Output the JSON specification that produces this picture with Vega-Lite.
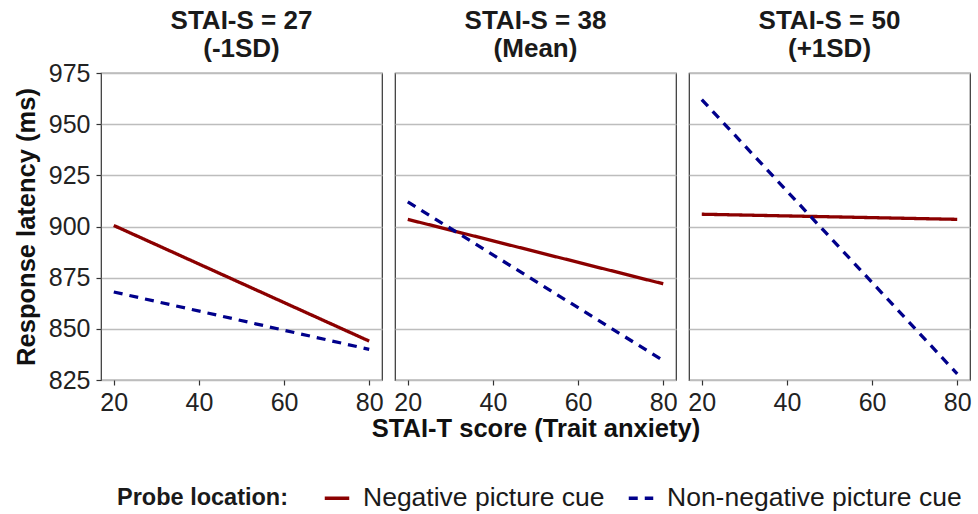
{
  "$schema": "https://vega.github.io/schema/vega-lite/v6.json",
  "padding": {"left": 13, "top": 6, "right": 0, "bottom": 0},
  "background": "white",
  "bounds": "flush",
  "datasets": {
    "lines": [
      {"panel": 1, "probe": "Negative picture cue", "trait": 20, "latency": 900.5},
      {"panel": 1, "probe": "Negative picture cue", "trait": 80, "latency": 844},
      {"panel": 1, "probe": "Non-negative picture cue", "trait": 20, "latency": 868},
      {"panel": 1, "probe": "Non-negative picture cue", "trait": 80, "latency": 840},
      {"panel": 2, "probe": "Negative picture cue", "trait": 20, "latency": 903.5},
      {"panel": 2, "probe": "Negative picture cue", "trait": 80, "latency": 872},
      {"panel": 2, "probe": "Non-negative picture cue", "trait": 20, "latency": 912},
      {"panel": 2, "probe": "Non-negative picture cue", "trait": 80, "latency": 834.5},
      {"panel": 3, "probe": "Negative picture cue", "trait": 20, "latency": 906},
      {"panel": 3, "probe": "Negative picture cue", "trait": 80, "latency": 903.5},
      {"panel": 3, "probe": "Non-negative picture cue", "trait": 20, "latency": 962},
      {"panel": 3, "probe": "Non-negative picture cue", "trait": 80, "latency": 828}
    ]
  },
  "config": {
    "font": "Liberation Sans",
    "view": {"stroke": "#333333", "strokeWidth": 1.2},
    "axis": {
      "domain": false,
      "labelFont": "Liberation Sans",
      "labelFontSize": 25,
      "labelColor": "#222222",
      "tickColor": "#333333",
      "tickSize": 5,
      "tickWidth": 1.2,
      "labelPadding": 5,
      "titleFont": "Liberation Sans",
      "titleFontSize": 25.5,
      "titleFontWeight": "bold",
      "titleColor": "#111111",
      "gridColor": "#bdbdbd",
      "gridWidth": 1.5
    },
    "title": {
      "font": "Liberation Sans",
      "fontSize": 26,
      "fontWeight": "bold",
      "color": "#1a1a1a",
      "anchor": "middle",
      "lineHeight": 28
    },
    "legend": {
      "labelFont": "Liberation Sans",
      "labelFontSize": 26.5,
      "labelColor": "#1a1a1a",
      "labelLimit": 500,
      "titleFont": "Liberation Sans",
      "titleFontSize": 23.5,
      "titleFontWeight": "bold",
      "titleColor": "#1a1a1a",
      "titleLimit": 400
    }
  },
  "spacing": 13,
  "hconcat": [
    {
      "width": 281,
      "height": 307,
      "title": {"text": ["STAI-S = 27", "(-1SD)"], "offset": -1},
      "data": {"name": "lines"},
      "transform": [{"filter": "datum.panel == 1"}],
      "mark": {"type": "line", "strokeWidth": 3.3, "strokeCap": "butt"},
      "encoding": {
        "x": {"field": "trait", "type": "quantitative",
          "scale": {"domain": [17, 83], "nice": false, "zero": false},
          "axis": {"values": [20, 40, 60, 80], "grid": false, "title": null}},
        "y": {"field": "latency", "type": "quantitative",
          "scale": {"domain": [825, 975], "nice": false, "zero": false},
          "axis": {"values": [825, 850, 875, 900, 925, 950, 975], "grid": true, "labelPadding": 6, "title": "Response latency (ms)", "titlePadding": 9}},
        "color": {"field": "probe", "type": "nominal",
          "scale": {"domain": ["Negative picture cue", "Non-negative picture cue"], "range": ["#8B0000", "#00008B"]},
          "legend": {"title": "Probe location:", "orient": "none", "direction": "horizontal", "titleOrient": "left", "legendX": 16, "legendY": 411, "symbolType": "stroke", "symbolSize": 600, "symbolStrokeWidth": 3.3, "labelOffset": 12, "columnPadding": 17, "titlePadding": 34}},
        "strokeDash": {"field": "probe", "type": "nominal",
          "scale": {"domain": ["Negative picture cue", "Non-negative picture cue"], "range": [[1, 0], [9, 7]]},
          "legend": {"title": "Probe location:", "orient": "none", "direction": "horizontal", "titleOrient": "left", "legendX": 16, "legendY": 411, "symbolType": "stroke", "symbolSize": 600, "symbolStrokeWidth": 3.3, "labelOffset": 12, "columnPadding": 17, "titlePadding": 34}}
      }
    },
    {
      "width": 281,
      "height": 307,
      "title": {"text": ["STAI-S = 38", "(Mean)"], "offset": 11.5},
      "data": {"name": "lines"},
      "transform": [{"filter": "datum.panel == 2"}],
      "mark": {"type": "line", "strokeWidth": 3.3, "strokeCap": "butt"},
      "encoding": {
        "x": {"field": "trait", "type": "quantitative",
          "scale": {"domain": [17, 83], "nice": false, "zero": false},
          "axis": {"values": [20, 40, 60, 80], "grid": false, "title": "STAI-T score (Trait anxiety)", "titlePadding": 1}},
        "y": {"field": "latency", "type": "quantitative",
          "scale": {"domain": [825, 975], "nice": false, "zero": false},
          "axis": {"values": [825, 850, 875, 900, 925, 950, 975], "grid": true, "labels": false, "ticks": false, "title": null}},
        "color": {"field": "probe", "type": "nominal",
          "scale": {"domain": ["Negative picture cue", "Non-negative picture cue"], "range": ["#8B0000", "#00008B"]}},
        "strokeDash": {"field": "probe", "type": "nominal",
          "scale": {"domain": ["Negative picture cue", "Non-negative picture cue"], "range": [[1, 0], [9, 7]]}}
      }
    },
    {
      "width": 281,
      "height": 307,
      "title": {"text": ["STAI-S = 50", "(+1SD)"], "offset": 11.5},
      "data": {"name": "lines"},
      "transform": [{"filter": "datum.panel == 3"}],
      "mark": {"type": "line", "strokeWidth": 3.3, "strokeCap": "butt"},
      "encoding": {
        "x": {"field": "trait", "type": "quantitative",
          "scale": {"domain": [17, 83], "nice": false, "zero": false},
          "axis": {"values": [20, 40, 60, 80], "grid": false, "title": null}},
        "y": {"field": "latency", "type": "quantitative",
          "scale": {"domain": [825, 975], "nice": false, "zero": false},
          "axis": {"values": [825, 850, 875, 900, 925, 950, 975], "grid": true, "labels": false, "ticks": false, "title": null}},
        "color": {"field": "probe", "type": "nominal",
          "scale": {"domain": ["Negative picture cue", "Non-negative picture cue"], "range": ["#8B0000", "#00008B"]}},
        "strokeDash": {"field": "probe", "type": "nominal",
          "scale": {"domain": ["Negative picture cue", "Non-negative picture cue"], "range": [[1, 0], [9, 7]]}}
      }
    }
  ]
}
